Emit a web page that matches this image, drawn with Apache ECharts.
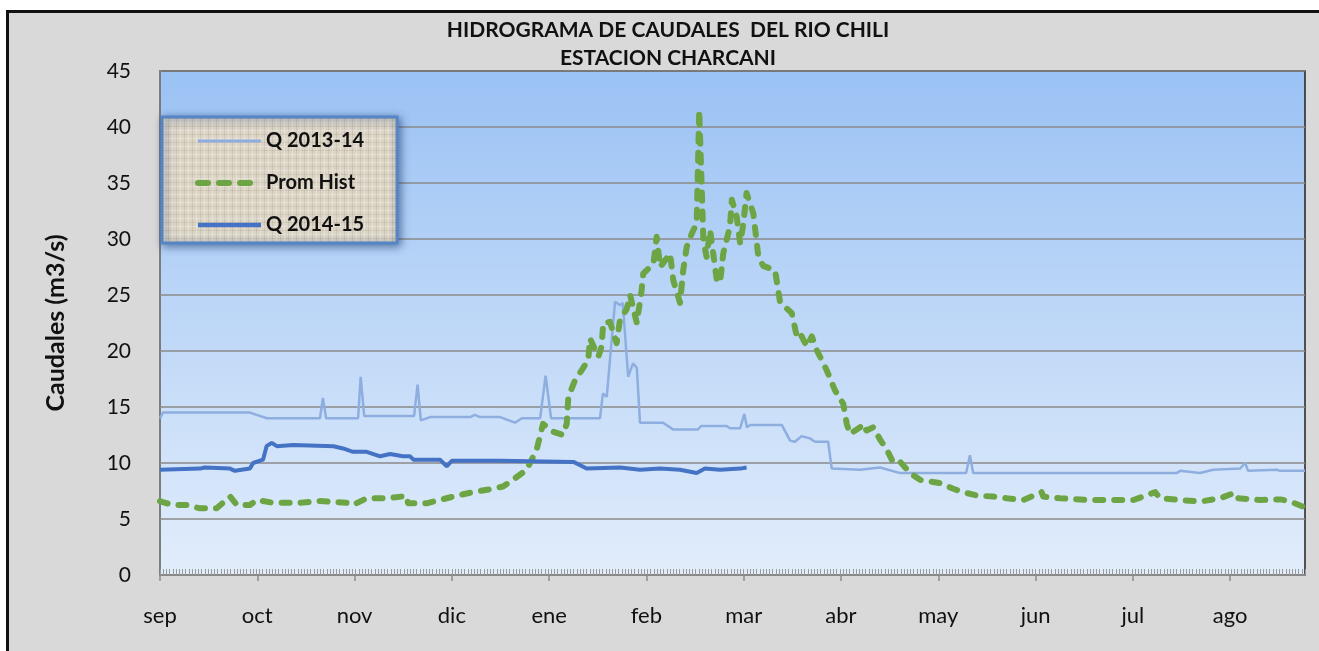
<!DOCTYPE html>
<html>
<head>
<meta charset="utf-8">
<script src="https://cdn.jsdelivr.net/npm/echarts@6/dist/echarts.min.js"></script>
<style>
  html, body { margin: 0; padding: 0; background: #ffffff; width: 1319px; height: 651px; overflow: hidden; }
  #frame { position: absolute; left: 6px; top: 10px; width: 1330px; height: 700px; border: 3px solid #111; background: #d9d9d9; box-sizing: border-box; }
  #chart { position: absolute; left: 0; top: 0; width: 1319px; height: 651px; }
</style>
</head>
<body>
<div id="frame"></div>
<div id="chart"></div>
<script>
// ---- data (x = day of hydrological year starting 1 Sep, y = m3/s) ----
const months = ['sep','oct','nov','dic','ene','feb','mar','abr','may','jun','jul','ago'];
const monthStart = [0, 30.4, 60.8, 91.2, 121.6, 152, 182.4, 212.8, 243.2, 273.6, 304, 334.4];
const yTicks = [0, 5, 10, 15, 20, 25, 30, 35, 40, 45];

const q1314 = [
  [0,14.0],[0.9,14.5],[28.1,14.5],[33.4,14.0],[50,14.0],[50.9,15.8],[51.9,14.0],
  [61.9,14.0],[62.7,17.7],[63.8,14.2],[79.4,14.2],[80.5,17.0],[81.5,13.8],[84.4,14.1],
  [96.9,14.1],[98.4,14.3],[100,14.1],[106.3,14.1],[110.9,13.6],[113.1,14.0],[118.8,14.0],
  [120.5,17.8],[122.2,14.0],[137.5,14.0],[138.4,16.2],[139.6,15.9],[142.2,24.4],[143.8,24.1],
  [144.6,24.3],[146.3,17.7],[147.8,18.9],[149,18.5],[150,13.6],[157.2,13.6],[160.3,13.0],
  [168.1,13.0],[169.1,13.3],[177.1,13.3],[178.1,13.1],[181.3,13.1],[182.6,14.4],[183.4,13.2],
  [184.4,13.4],[194.3,13.4],[196.9,12.0],[198.4,11.9],[200.5,12.4],[203.1,12.2],[204.7,11.9],
  [208.8,11.9],[209.9,9.5],[218.8,9.4],[225,9.6],[231.3,9.1],[251.9,9.1],[253.1,10.7],
  [254.1,9.1],[317.7,9.1],[318.8,9.3],[325,9.1],[329.1,9.4],[337.5,9.5],[339.1,10.0],
  [340,9.3],[349,9.4],[350,9.3],[357.8,9.3]
];

const promHist = [
  [0,6.6],[0.9,6.5],[4.1,6.25],[8.3,6.25],[12.5,5.95],[17.7,5.95],[21.9,7.0],[24,6.25],
  [28.1,6.25],[30.2,6.7],[35.3,6.45],[43.8,6.45],[50,6.6],[58.3,6.45],[60.3,6.25],[64.6,6.85],
  [70.8,6.85],[77.1,7.05],[77.5,6.4],[83.3,6.4],[87.5,6.7],[91.6,7.0],[97.8,7.4],[104,7.7],
  [107.2,7.9],[110.3,8.5],[114.6,9.4],[117.7,11.2],[119.7,13.5],[122.8,12.8],[125.9,12.5],
  [127.1,13.5],[127.6,15.9],[129.7,17.4],[131.8,18.3],[133.8,19.2],[134.4,21.1],[137,19.5],
  [138,20.4],[138.5,22.5],[140.6,22.6],[142.7,20.7],[143.8,22.9],[145.8,23.7],[146.9,25.0],
  [149,22.5],[150.5,25.4],[151,26.9],[154.2,27.8],[155.2,30.2],[156.3,27.5],[159.4,28.7],
  [160.4,26.3],[162.5,24.3],[163.5,27.2],[164.6,29.3],[166.2,30.5],[167.7,31.4],[168.5,41.5],
  [169.8,29.9],[170.8,28.4],[171.9,30.8],[174,26.3],[175,26.1],[176,28.7],[178.1,31.1],
  [178.7,33.5],[180.2,32.0],[181.3,29.6],[182.3,31.4],[183.3,34.1],[185.4,32.3],[187,28.4],
  [188.5,27.6],[192.2,27.2],[193.8,24.3],[197.4,23.4],[199,21.3],[200,21.6],[202.1,20.4],
  [203.7,21.3],[205.2,20.1],[208.3,18.3],[210.9,16.5],[213.5,15.3],[214.6,13.5],[215.6,12.6],
  [218.8,13.2],[219.3,13.5],[220.8,12.9],[222.9,13.2],[225,12.1],[227.1,11.2],[229.2,10.0],
  [231.3,10.1],[234.4,9.1],[237.5,8.5],[243.8,8.2],[247.9,7.7],[251,7.4],[255.2,7.1],
  [260.4,7.0],[264.6,6.85],[269.8,6.7],[275.5,7.4],[276,7.0],[281.3,6.85],[289.6,6.7],
  [296.9,6.7],[304.2,6.7],[311,7.4],[312.5,6.85],[318.8,6.7],[325,6.55],[331.3,6.85],
  [335.9,7.35],[337,6.85],[343.8,6.7],[350.2,6.75],[353.3,6.55],[357.2,6.1],[357.8,6.6]
];

const q1415 = [
  [0,9.4],[12.5,9.5],[14,9.6],[21.9,9.5],[23.4,9.3],[28.1,9.5],[29.1,10.0],[32.2,10.3],
  [33.3,11.5],[34.9,11.8],[36.5,11.5],[41.6,11.6],[54.2,11.5],[57.2,11.3],[60.3,11.0],
  [64.6,11.0],[68.8,10.6],[71.9,10.8],[75.9,10.6],[78.1,10.6],[79.2,10.3],[87.5,10.3],
  [89.6,9.7],[91.2,10.2],[106.3,10.2],[129.2,10.1],[131.3,9.8],[133.3,9.5],[143.8,9.6],
  [150,9.4],[156.3,9.5],[162.5,9.4],[167.7,9.1],[170.3,9.5],[175,9.4],[181.3,9.5],[183.3,9.6]
];

const xMax = 357.8;
const dayTicks = Array.from({length: 358}, (_, i) => String(i));

const C_Q1314 = '#8eaee0', C_PROM = '#6ea544', C_Q1415 = '#4472c4';

// burlap-like legend background pattern
function makePattern() {
  const c = document.createElement('canvas');
  c.width = 8; c.height = 8;
  const g = c.getContext('2d');
  g.fillStyle = '#dcd5c6'; g.fillRect(0, 0, 8, 8);
  g.fillStyle = 'rgba(125,110,90,0.16)';
  g.fillRect(0, 3, 8, 1); g.fillRect(5, 0, 1, 8);
  g.fillStyle = 'rgba(255,255,255,0.28)';
  g.fillRect(0, 7, 8, 1); g.fillRect(1, 0, 1, 8);
  return { image: c, repeat: 'repeat' };
}

const FONT = 'Lato, "Open Sans", sans-serif';
const chart = echarts.init(document.getElementById('chart'), null, { renderer: 'canvas' });

chart.setOption({
  backgroundColor: 'transparent',
  animation: false,
  title: {
    text: 'HIDROGRAMA DE CAUDALES  DEL RIO CHILI\nESTACION CHARCANI',
    left: 668, top: 16, textAlign: 'center', padding: 0,
    textStyle: { fontFamily: FONT, fontSize: 21, fontWeight: 'bold', color: '#111', lineHeight: 28 }
  },
  legend: {
    orient: 'vertical', left: 162, top: 117,
    padding: [14, 33, 8, 33],
    itemWidth: 63, itemHeight: 24, itemGap: 22,
    itemStyle: { opacity: 0 },
    backgroundColor: makePattern(),
    borderColor: '#5585c4', borderWidth: 3,
    shadowBlur: 8, shadowColor: 'rgba(30,60,110,0.6)', shadowOffsetX: 2, shadowOffsetY: 2,
    textStyle: { fontFamily: FONT, fontSize: 20, fontWeight: 'bold', color: '#111' },
    data: [
      { name: 'Q 2013-14', lineStyle: { color: C_Q1314, width: 3 } },
      { name: 'Prom Hist', lineStyle: { color: C_PROM, width: 6, type: [10, 11], cap: 'round' } },
      { name: 'Q 2014-15', lineStyle: { color: C_Q1415, width: 4.5 } }
    ]
  },
  grid: {
    left: 160, top: 71, right: 14, bottom: 76,
    show: true,
    backgroundColor: new echarts.graphic.LinearGradient(0, 0, 0, 1, [
      { offset: 0, color: '#9ac2f4' }, { offset: 1, color: '#e2edfb' }
    ]),
    borderColor: '#222', borderWidth: 1.5
  },
  xAxis: [{
    type: 'value', min: 0, max: xMax,
    axisLine: { show: true, lineStyle: { color: '#8c8c8c', width: 1.5 } },
    axisTick: { show: true, customValues: monthStart, length: 6, lineStyle: { color: '#8c8c8c', width: 1.5 } },
    axisLabel: {
      customValues: monthStart, margin: 30,
      formatter: v => { const i = monthStart.indexOf(v); return i >= 0 ? months[i] : ''; },
      fontFamily: FONT, fontSize: 22, color: '#111'
    },
    splitLine: { show: false }
  }, {
    type: 'category', data: dayTicks, boundaryGap: false, position: 'bottom',
    axisLine: { show: false },
    axisTick: { show: true, inside: true, interval: 0, length: 6, lineStyle: { color: '#9a9a9a', width: 1 } },
    axisLabel: { show: false },
    splitLine: { show: false }
  }],
  yAxis: {
    type: 'value', min: 0, max: 45, interval: 5,
    name: 'Caudales (m3/s)', nameLocation: 'middle', nameGap: 92, nameRotate: 90,
    nameTextStyle: { fontFamily: FONT, fontSize: 25, fontWeight: 'bold', color: '#111' },
    axisLine: { show: true, lineStyle: { color: '#8c8c8c', width: 1.5 } },
    axisTick: { show: false },
    axisLabel: {
      margin: 29, fontFamily: FONT, fontSize: 21, color: '#111',
      formatter: v => (yTicks.indexOf(v) >= 0 ? String(v) : '')
    },
    splitLine: { show: true, lineStyle: { color: '#8a8a8a', width: 1.5 } }
  },
  series: [{
    name: 'Q 2013-14', type: 'line', data: q1314, symbol: 'none', xAxisIndex: 0,
    lineStyle: { color: C_Q1314, width: 2.5 }, itemStyle: { color: C_Q1314 }
  }, {
    name: 'Prom Hist', type: 'line', data: promHist, symbol: 'none', xAxisIndex: 0,
    lineStyle: { color: C_PROM, width: 6, type: [8, 11], cap: 'round', join: 'round' },
    itemStyle: { color: C_PROM }
  }, {
    name: 'Q 2014-15', type: 'line', data: q1415, symbol: 'none', xAxisIndex: 0,
    lineStyle: { color: C_Q1415, width: 4 }, itemStyle: { color: C_Q1415 }
  }]
});
</script>
</body>
</html>
